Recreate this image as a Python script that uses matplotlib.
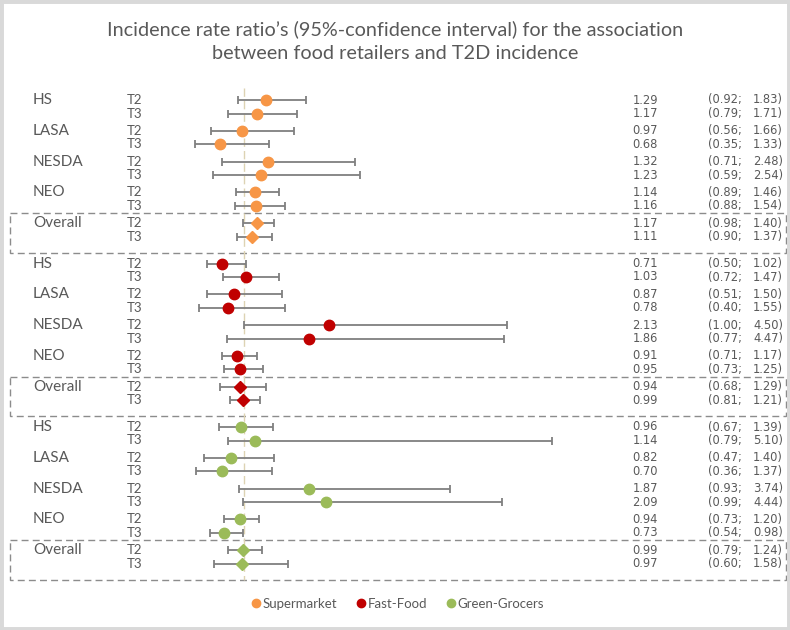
import matplotlib
matplotlib.use('Agg')
import matplotlib.pyplot as plt
from matplotlib.patches import Rectangle
from matplotlib.lines import Line2D

# forest plot of IRRs per cohort, tertile and retailer type
title = "Incidence rate ratio\u2019s (95%-confidence interval) for the association\nbetween food retailers and T2D incidence"
cohorts = ['HS', 'LASA', 'NESDA', 'NEO', 'Overall']
tiers = ['T2', 'T3']
retailers = ['Supermarket', 'Fast-Food', 'Green-Grocers']
colors = ['#F79646', '#C00000', '#9BBB59']

# order: HS T2, HS T3, LASA T2, ... Overall T3
supermarket_irr = [1.29, 1.17, 0.97, 0.68, 1.32, 1.23, 1.14, 1.16, 1.17, 1.11]
supermarket_lo = [0.92, 0.79, 0.56, 0.35, 0.71, 0.59, 0.89, 0.88, 0.98, 0.90]
supermarket_hi = [1.83, 1.71, 1.66, 1.33, 2.48, 2.54, 1.46, 1.54, 1.40, 1.37]

fastfood_irr = [0.71, 1.03, 0.87, 0.78, 2.13, 1.86, 0.91, 0.95, 0.94, 0.99]
fastfood_lo = [0.50, 0.72, 0.51, 0.40, 1.00, 0.77, 0.71, 0.73, 0.68, 0.81]
fastfood_hi = [1.02, 1.47, 1.50, 1.55, 4.50, 4.47, 1.17, 1.25, 1.29, 1.21]

green_irr = [0.96, 1.14, 0.82, 0.70, 1.87, 2.09, 0.94, 0.73, 0.99, 0.97]
green_lo = [0.67, 0.79, 0.47, 0.36, 0.93, 0.99, 0.73, 0.54, 0.79, 0.60]
green_hi = [1.39, 5.10, 1.40, 1.37, 3.74, 4.44, 1.20, 0.98, 1.24, 1.58]

groups = [(supermarket_irr, supermarket_lo, supermarket_hi),
          (fastfood_irr, fastfood_lo, fastfood_hi),
          (green_irr, green_lo, green_hi)]

W, H = 790, 630
TXT = '#595959'
GREY = '#7f7f7f'

fig = plt.figure(figsize=(W / 100, H / 100), dpi=100)
ax = fig.add_axes([0, 0, 1, 1])
# x in IRR units (1.0 sits at ~244px, 75px per unit), y in pixel rows
x0, scale = 169, 75.0
ax.set_xlim(-x0 / scale, (W - x0) / scale)
ax.set_ylim(H, 0)
ax.axis('off')
lab = ax.get_yaxis_transform()  # x axes fraction, y in rows


def row_y(g, c, t):
    return 100 + g * 163.5 + c * 30.8 + t * 13.5


# reference line at IRR = 1
ax.plot([1, 1], [88, 580], color='#ddd3b3', lw=1, ls=(0, (6, 3)), zorder=1)

for g, (irr, lo, hi) in enumerate(groups):
    for c, coh in enumerate(cohorts):
        for t, tier in enumerate(tiers):
            i = c * 2 + t
            y = row_y(g, c, t)
            mk = 'D' if coh == 'Overall' else 'o'
            ms = 6.5 if coh == 'Overall' else 7.5
            ax.errorbar(irr[i], y, xerr=[[irr[i] - lo[i]], [hi[i] - irr[i]]],
                        fmt=mk, color=colors[g], ms=ms, mec=colors[g],
                        ecolor=GREY, elinewidth=1.3, capsize=3, capthick=1.3, zorder=3)
            ax.text(127 / W, y, tier, transform=lab, fontsize=9.5, color=TXT,
                    family='Lato', va='center', ha='left')
            ax.text(658 / W, y, '%.2f' % irr[i], transform=lab, fontsize=8.3,
                    color=TXT, va='center', ha='right')
            ax.text(708 / W, y, '(%.2f;' % lo[i], transform=lab, fontsize=8.3,
                    color=TXT, va='center', ha='left')
            ax.text(783 / W, y, '%.2f)' % hi[i], transform=lab, fontsize=8.3,
                    color=TXT, va='center', ha='right')
        ax.text(33 / W, row_y(g, c, 0), coh, transform=lab, fontsize=11,
                color=TXT, family='Lato', va='center', ha='left')
    # dashed box around the pooled estimates
    top = row_y(g, 4, 0) - 10
    bot = row_y(g, 4, 1) + 16
    ax.add_patch(Rectangle((10 / W, top), 776 / W, bot - top, transform=lab,
                           fill=False, ec='#8c8c8c', lw=1, ls=(0, (5, 3)), zorder=0))

fig.text(0.5, 1 - 41 / H, title, ha='center', va='center', fontsize=14.3,
         color=TXT, family='Lato', linespacing=1.5)

handles = [Line2D([], [], ls='none', marker='o', ms=6, color=col) for col in colors]
fig.legend(handles, retailers, loc='center', bbox_to_anchor=(0.502, 1 - 604 / H),
           ncol=3, frameon=False, handletextpad=0.0, columnspacing=1.3,
           handlelength=1.0, prop={'family': 'Lato', 'size': 9.5}, labelcolor=TXT)

# light outer frame like the exported picture
fig.add_artist(Rectangle((0, 0), 1, 1, transform=fig.transFigure, fill=False,
                         ec='#d9d9d9', lw=5))

fig.savefig('out.png', dpi=100)
